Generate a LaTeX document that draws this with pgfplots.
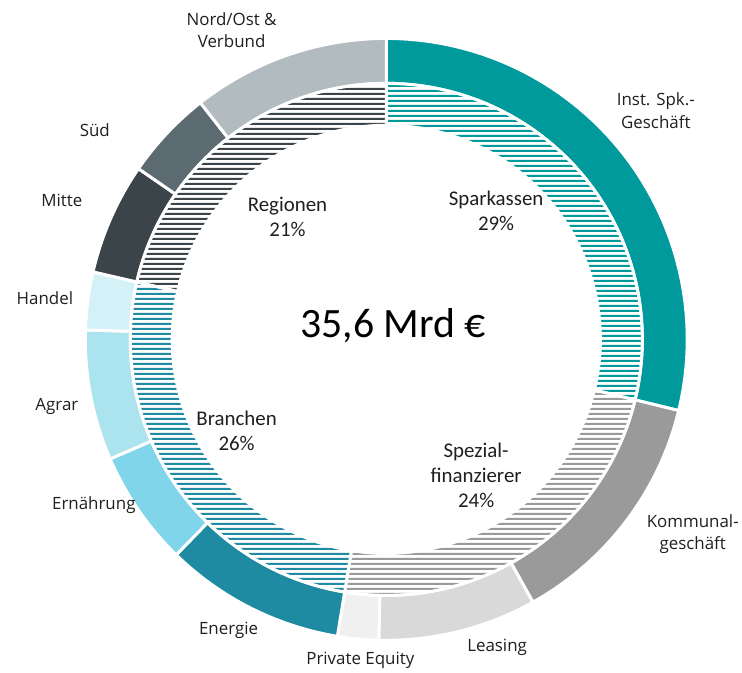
\documentclass[border=0pt]{standalone}
\usepackage{fontspec}
\setmainfont{Carlito}
\newfontfamily\outerfont{Open Sans}
\usepackage{pgfplots}
\pgfplotsset{compat=1.18}
\usetikzlibrary{patterns}

\definecolor{cInst}{RGB}{0,154,156}
\definecolor{cKomm}{RGB}{154,154,154}
\definecolor{cLeas}{RGB}{217,217,217}
\definecolor{cPE}{RGB}{240,240,240}
\definecolor{cEner}{RGB}{30,139,162}
\definecolor{cErn}{RGB}{128,213,234}
\definecolor{cAgr}{RGB}{171,227,239}
\definecolor{cHan}{RGB}{211,241,246}
\definecolor{cMit}{RGB}{59,69,73}
\definecolor{cSued}{RGB}{91,107,113}
\definecolor{cNord}{RGB}{177,187,192}

% wide-tile horizontal hatching
\pgfdeclarepatternformonly{hlines}{\pgfpoint{0bp}{0bp}}{\pgfpoint{400bp}{4.5bp}}{\pgfpoint{400bp}{4.5bp}}{%
  \pgfpathrectangle{\pgfpoint{-1bp}{1.15bp}}{\pgfpoint{402bp}{2.2bp}}%
  \pgfusepath{fill}%
}

% shares in percent, clockwise from the top
\def\outerdata{28.8/cInst, 13.1/cKomm, 8.5/cLeas, 2.2/cPE, 9.7/cEner, 6.2/cErn, 7.0/cAgr, 3.1/cHan, 6.0/cMit, 4.8/cSued, 10.6/cNord}
\def\innerdata{28.8/cInst, 23.8/cKomm, 26.0/cEner, 21.4/cMit}

\tikzset{
  outerseg/.style={fill=#1},
  innerseg/.style={pattern=hlines, pattern color=#1},
}

\newcommand{\ring}[4]{%
  \xdef\cum{0}%
  \foreach \s/\c in #1 {%
    \pgfmathsetmacro\aA{90-3.6*\cum}%
    \pgfmathsetmacro\nc{\cum+\s}%
    \pgfmathsetmacro\aB{90-3.6*\nc}%
    \xdef\cum{\nc}%
    \edef\temp{\noexpand\addplot[#4=\c, draw=white, line width=3bp, variable=\noexpand\t,
      samples at={0,1,...,50,100,101,...,150}]
      ({ifthenelse(\noexpand\t<75,#3,#2)*cos(ifthenelse(\noexpand\t<75,(\aA)+\noexpand\t/50*((\aB)-(\aA)),(\aB)+(\noexpand\t-100)/50*((\aA)-(\aB))))},
       {ifthenelse(\noexpand\t<75,#3,#2)*sin(ifthenelse(\noexpand\t<75,(\aA)+\noexpand\t/50*((\aB)-(\aA)),(\aB)+(\noexpand\t-100)/50*((\aA)-(\aB))))}) -- cycle;}%
    \temp
  }%
}

\begin{document}
\begin{tikzpicture}
\begin{axis}[
  x=1bp, y=1bp,
  xmin=-387, xmax=355, ymin=-333, ymax=340,
  hide axis, clip=false,
]
\path (axis cs:-387,-333) rectangle (axis cs:355,340);
\ring{\outerdata}{256.5}{301.5}{outerseg}
\ring{\innerdata}{214.5}{256.5}{innerseg}

% outer labels
\begin{scope}[every node/.style={align=center, text=black!88, font=\outerfont\fontsize{17}{22.5}\selectfont}]
\node at (axis cs:-155,310) {Nord/Ost \&\\Verbund};
\node at (axis cs:270,229) {Inst. Spk.-\\Geschäft};
\node at (axis cs:-292,210) {Süd};
\node at (axis cs:-325,139) {Mitte};
\node at (axis cs:-342,41) {Handel};
\node at (axis cs:-330,-67) {Agrar};
\node at (axis cs:-293,-166) {Ernährung};
\node at (axis cs:-158,-291) {Energie};
\node at (axis cs:-26,-322) {Private Equity};
\node at (axis cs:111,-309) {Leasing};
\node at (axis cs:307,-195) {Kommunal-\\geschäft};
\end{scope}

% inner labels
\begin{scope}[every node/.style={align=center, text=black!88, font=\fontsize{21}{25}\selectfont}]
\node at (axis cs:-99,123) {Regionen\\21\%};
\node at (axis cs:110,129) {Sparkassen\\29\%};
\node at (axis cs:90,-136) {Spezial-\\finanzierer\\24\%};
\node at (axis cs:-150,-92) {Branchen\\26\%};
\end{scope}

\node[text=black, font=\fontsize{42}{50}\selectfont] at (axis cs:7,14) {35,6 Mrd €};
\end{axis}
\end{tikzpicture}
\end{document}
